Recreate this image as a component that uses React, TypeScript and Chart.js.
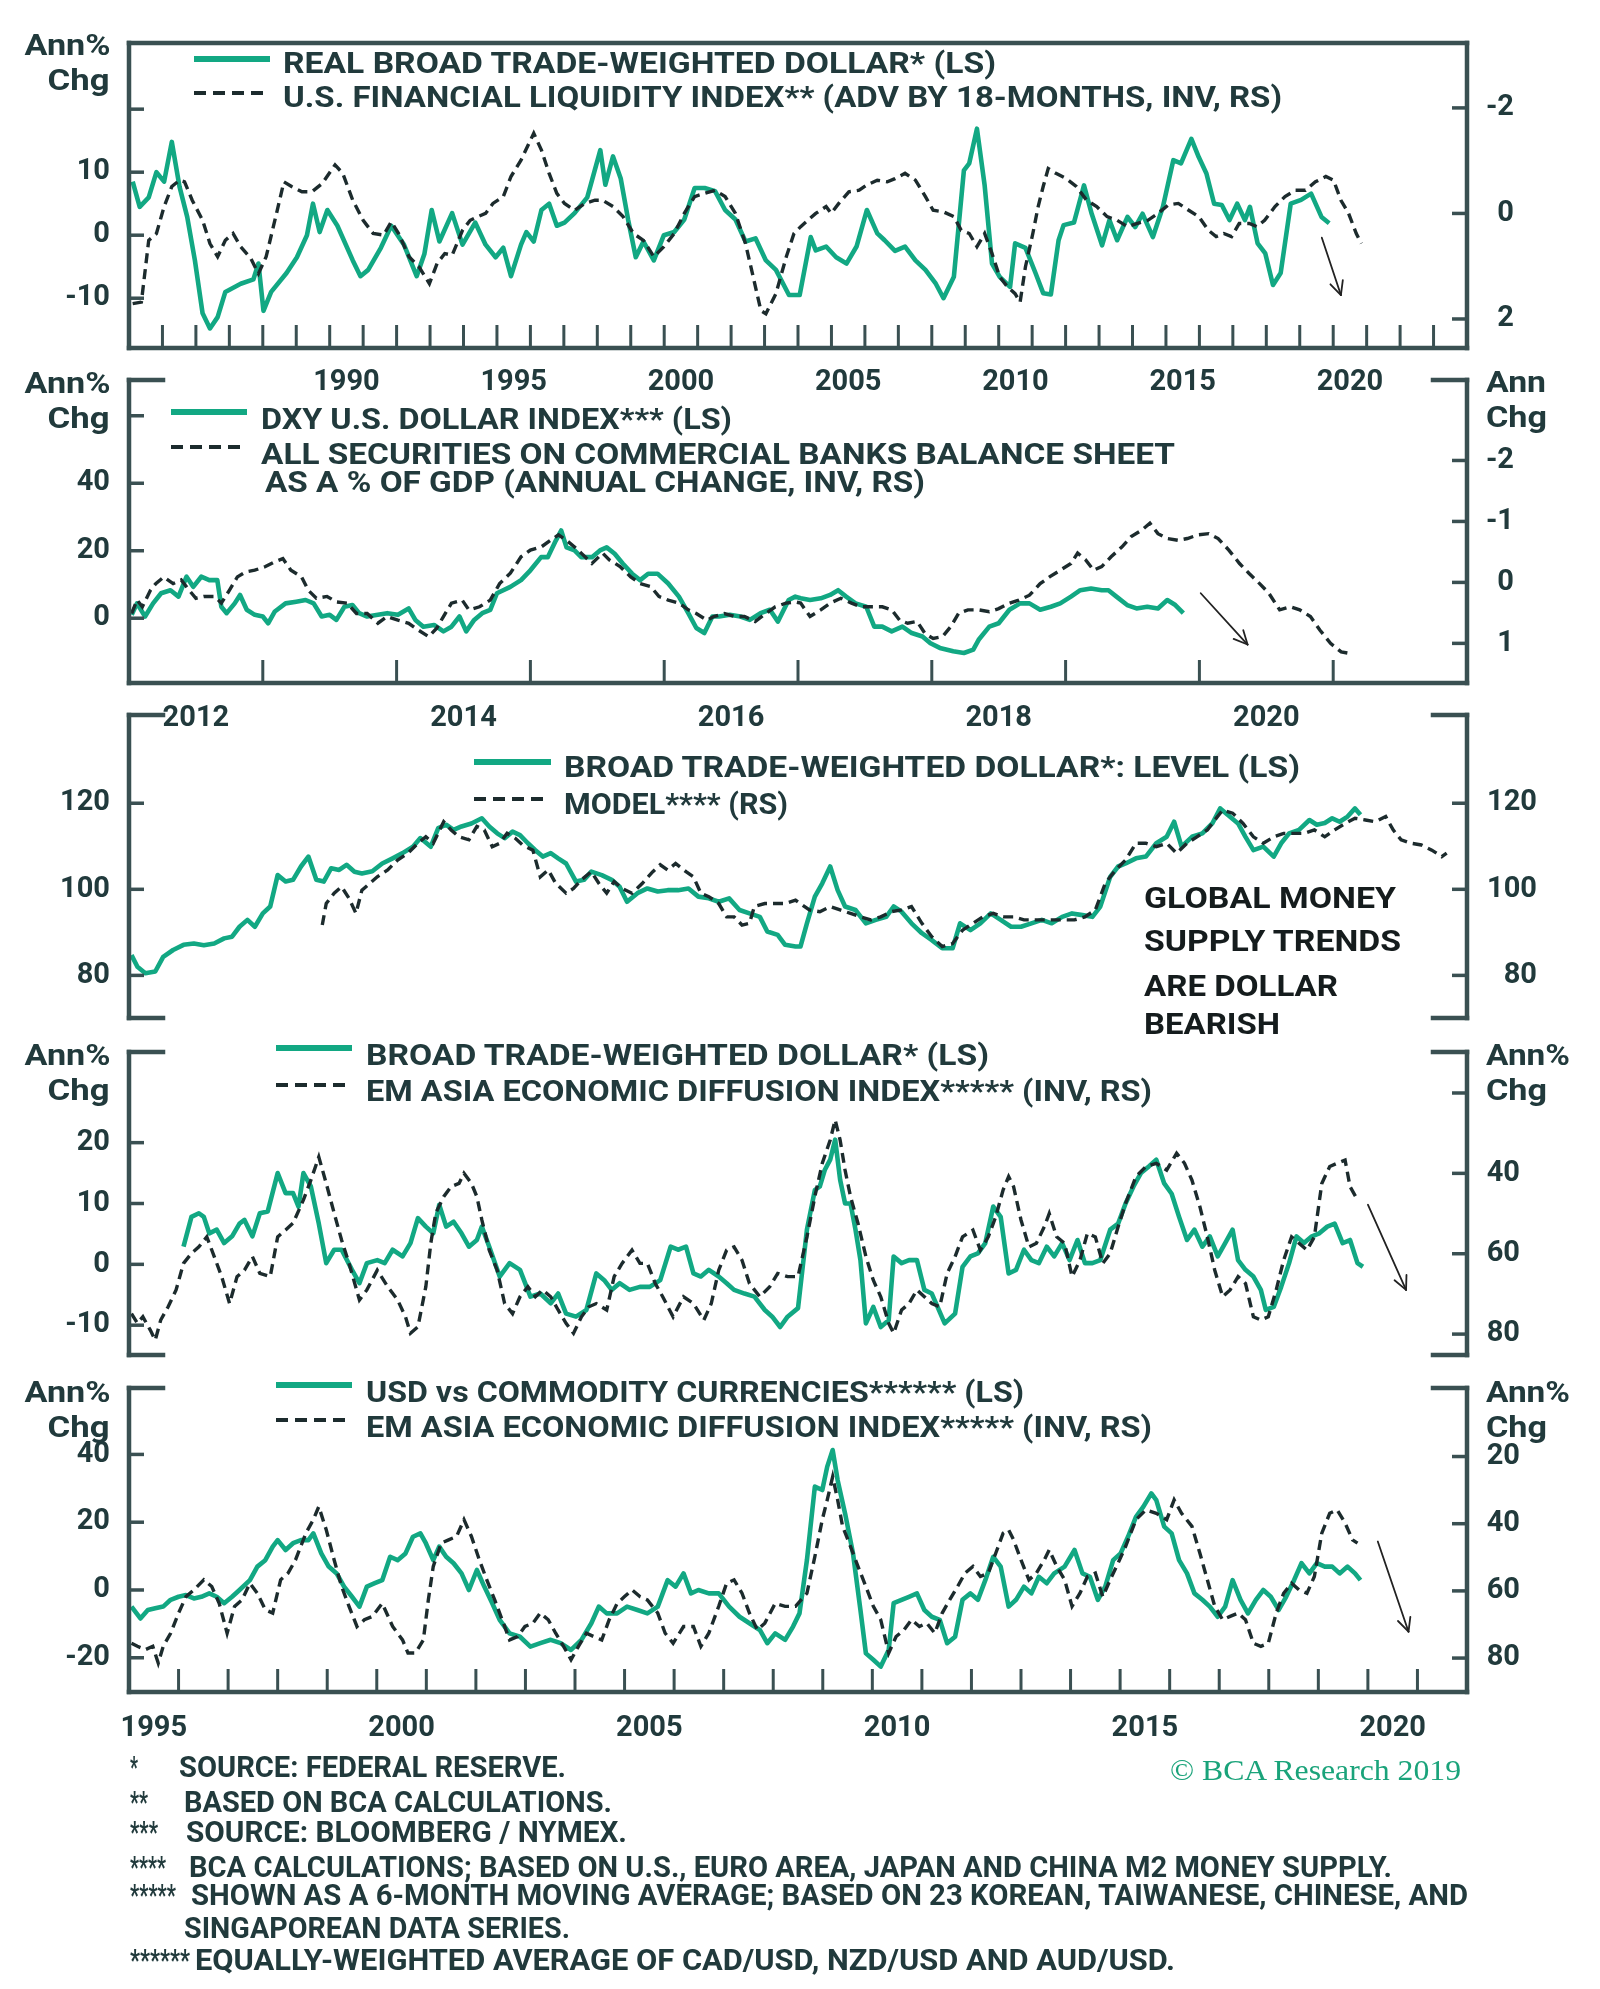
import React, { useEffect, useLayoutEffect, useRef } from 'react';
import { Chart, registerables } from 'chart.js';

Chart.register(...registerables);

// ---------------- colours / fonts ----------------
const FONT_FAMILY = 'Roboto, "Liberation Sans", Arial, sans-serif';
const TEXT = '#213a3c';
const AXIS = '#3a5052';
const GREEN = '#12a883';
const DASH = '#1c2b2d';

type Pt = [number, number];

// ---------------- DATA ----------------
// Panel 1: real broad trade-weighted dollar (ann % chg, LS) and US financial liquidity index (inv, RS)
const p1Years = [1990, 1995, 2000, 2005, 2010, 2015, 2020];
const p1LeftTicks = [20, 10, 0, -10];
const p1LeftLabels = [10, 0, -10];
const p1RightTicks = [-2, 0, 2];
const p1Green: Pt[] = [
  [1984.11, 8.5], [1984.32, 4.5], [1984.59, 6], [1984.82, 10], [1985.05, 8.5], [1985.28, 14.8], [1985.51, 7.7], [1985.74, 2.9],
  [1985.97, -4], [1986.2, -12.4], [1986.42, -14.8], [1986.65, -13], [1986.88, -9], [1987.34, -7.7], [1987.72, -7], [1987.87, -4.5],
  [1988.02, -12], [1988.25, -9], [1988.71, -6], [1989.02, -3.5], [1989.32, 0], [1989.5, 5], [1989.7, 0.5], [1989.93, 4],
  [1990.23, 1.5], [1990.69, -4], [1990.92, -6.5], [1991.15, -5.5], [1991.53, -2], [1991.84, 1.5], [1992.22, -1.5], [1992.6, -6.5],
  [1992.83, -3], [1993.05, 4], [1993.28, -1], [1993.66, 3.5], [1993.97, -1.5], [1994.35, 2], [1994.66, -1.5], [1994.96, -3.5],
  [1995.19, -2], [1995.42, -6.5], [1995.72, -1.5], [1995.88, 0.5], [1996.1, -1], [1996.33, 4], [1996.56, 5], [1996.79, 1.5],
  [1997.02, 2], [1997.32, 3.5], [1997.7, 6], [1998.09, 13.5], [1998.24, 8], [1998.47, 12.5], [1998.7, 9], [1998.92, 2.5],
  [1999.15, -3.5], [1999.38, -1], [1999.69, -4], [1999.99, 0], [2000.3, 0.5], [2000.6, 2.5], [2000.91, 7.5], [2001.21, 7.5],
  [2001.52, 7], [2001.82, 4], [2002.13, 2.5], [2002.43, -1], [2002.73, -0.5], [2003.04, -4], [2003.34, -5.5], [2003.73, -9.5],
  [2004.05, -9.5], [2004.38, -0.3], [2004.53, -2.4], [2004.84, -1.8], [2005.14, -3.5], [2005.45, -4.5], [2005.75, -1.8], [2006.06, 4],
  [2006.37, 0.3], [2006.59, -0.8], [2006.9, -2.5], [2007.2, -1.8], [2007.51, -4], [2007.81, -5.5], [2008.12, -7.7], [2008.35, -10],
  [2008.66, -6.6], [2008.96, 10.3], [2009.12, 11.4], [2009.35, 16.9], [2009.58, 7.9], [2009.8, -4.5], [2010.03, -6.6], [2010.34, -8.2],
  [2010.49, -1.3], [2010.8, -2], [2011.1, -6], [2011.33, -9.2], [2011.56, -9.4], [2011.79, -0.8], [2011.94, 1.6], [2012.25, 2],
  [2012.55, 7.9], [2012.78, 3.4], [2013.09, -1.6], [2013.31, 2.4], [2013.54, -0.8], [2013.85, 2.9], [2014.08, 1.3], [2014.3, 3.4],
  [2014.61, -0.3], [2014.91, 4.5], [2015.22, 11.9], [2015.45, 11.4], [2015.76, 15.3], [2015.98, 12.4], [2016.21, 9.8], [2016.44, 5],
  [2016.67, 4.8], [2016.9, 2.4], [2017.13, 5], [2017.36, 2.4], [2017.51, 4.5], [2017.74, -1.3], [2017.97, -2.9], [2018.2, -7.9],
  [2018.43, -6], [2018.73, 5], [2019.04, 5.6], [2019.34, 6.6], [2019.65, 2.9], [2019.88, 1.9],
];
const p1Dashed: Pt[] = [
  [1984.11, 1.71], [1984.37, 1.68], [1984.59, 0.51], [1984.82, 0.38], [1985.05, -0.13], [1985.28, -0.51], [1985.51, -0.63], [1985.66, -0.6],
  [1985.89, -0.25], [1986.2, 0.13], [1986.42, 0.57], [1986.65, 0.82], [1986.88, 0.51], [1987.11, 0.38], [1987.34, 0.63], [1987.64, 0.85],
  [1987.87, 1.14], [1988.1, 0.82], [1988.41, 0], [1988.63, -0.6], [1988.86, -0.51], [1989.17, -0.41], [1989.47, -0.41], [1989.78, -0.57],
  [1990.16, -0.92], [1990.39, -0.76], [1990.69, -0.25], [1991.0, 0.13], [1991.3, 0.38], [1991.61, 0.41], [1991.84, 0.16], [1992.06, 0.38],
  [1992.37, 0.82], [1992.67, 1.01], [1992.98, 1.33], [1993.21, 0.95], [1993.44, 0.76], [1993.66, 0.79], [1993.97, 0.32], [1994.2, 0.13],
  [1994.43, 0.06], [1994.66, 0], [1994.88, -0.19], [1995.19, -0.32], [1995.42, -0.7], [1995.72, -1.01], [1996.1, -1.52], [1996.33, -1.2],
  [1996.56, -0.76], [1996.79, -0.38], [1997.02, -0.19], [1997.32, -0.06], [1997.63, -0.19], [1997.93, -0.25], [1998.16, -0.25], [1998.47, -0.13],
  [1998.77, 0.06], [1999.08, 0.38], [1999.38, 0.51], [1999.69, 0.82], [1999.99, 0.63], [2000.3, 0.38], [2000.6, 0], [2000.91, -0.32],
  [2001.21, -0.38], [2001.52, -0.44], [2001.82, -0.32], [2002.13, 0], [2002.43, 0.57], [2002.66, 1.2], [2002.89, 1.84], [2003.04, 1.9],
  [2003.34, 1.52], [2003.65, 0.82], [2003.88, 0.38], [2004.08, 0.25], [2004.53, 0], [2004.84, -0.13], [2004.99, 0], [2005.22, -0.19],
  [2005.52, -0.41], [2005.83, -0.44], [2006.06, -0.54], [2006.37, -0.63], [2006.67, -0.6], [2006.9, -0.66], [2007.2, -0.76], [2007.51, -0.63],
  [2007.81, -0.32], [2008.04, -0.06], [2008.35, -0.03], [2008.66, 0.06], [2008.88, 0.32], [2009.12, 0.38], [2009.35, 0.63], [2009.58, 0.38],
  [2009.8, 0.76], [2010.03, 1.2], [2010.26, 1.39], [2010.49, 1.52], [2010.64, 1.68], [2010.8, 1.01], [2011.02, 0.38], [2011.18, -0.13],
  [2011.33, -0.51], [2011.48, -0.85], [2011.71, -0.76], [2012.02, -0.66], [2012.32, -0.51], [2012.63, -0.25], [2012.93, -0.13], [2013.24, 0.06],
  [2013.54, 0.13], [2013.85, 0.25], [2014.15, 0.19], [2014.46, 0.13], [2014.76, 0], [2015.07, -0.16], [2015.37, -0.19], [2015.68, -0.06],
  [2015.98, 0.06], [2016.27, 0.32], [2016.5, 0.44], [2016.73, 0.38], [2016.96, 0.44], [2017.19, 0.19], [2017.49, 0.19], [2017.72, 0.25],
  [2017.95, 0.13], [2018.26, -0.13], [2018.56, -0.32], [2018.87, -0.44], [2019.17, -0.44], [2019.47, -0.6], [2019.78, -0.7], [2020.01, -0.63],
  [2020.23, -0.25], [2020.46, 0], [2020.69, 0.38], [2020.84, 0.57],
];
const p1Arrow = [2019.66, -0.4, 2020.23, -9.5];

// Panel 2: DXY (ann % chg, LS) and securities on bank balance sheets (% of GDP, annual chg, inv, RS)
const p2Years = [2012, 2014, 2016, 2018, 2020];
const p2LeftTicks = [60, 40, 20, 0];
const p2LeftLabels = [40, 20, 0];
const p2RightTicks = [-2, -1, 0, 1];
const p2Green: Pt[] = [
  [2012.02, 1], [2012.06, 4.4], [2012.12, 0.5], [2012.18, 4.4], [2012.24, 7.4], [2012.31, 8.3], [2012.37, 6.4], [2012.43, 12.3],
  [2012.48, 9.3], [2012.54, 12.3], [2012.6, 11.3], [2012.66, 11.3], [2012.69, 3.4], [2012.73, 1.5], [2012.79, 4.4], [2012.83, 6.9],
  [2012.88, 2.5], [2012.94, 1], [2013.0, 0.5], [2013.04, -1.5], [2013.09, 2], [2013.17, 4.4], [2013.25, 4.9], [2013.32, 5.4],
  [2013.38, 4.4], [2013.44, 0.5], [2013.5, 1], [2013.55, -0.5], [2013.61, 3.4], [2013.67, 3.9], [2013.72, 1.5], [2013.78, 0.5],
  [2013.86, 1], [2013.93, 1.5], [2014.01, 1], [2014.09, 2.9], [2014.14, -0.5], [2014.2, -2.5], [2014.28, -2], [2014.35, -3.9],
  [2014.41, -2.5], [2014.47, 0.5], [2014.52, -3.9], [2014.58, -0.5], [2014.64, 1.5], [2014.7, 2.5], [2014.75, 7.4], [2014.85, 9.3],
  [2014.93, 11.3], [2015.0, 14.2], [2015.08, 18.1], [2015.13, 18.1], [2015.19, 23], [2015.23, 26], [2015.27, 21], [2015.33, 20.1],
  [2015.38, 18.1], [2015.46, 18.1], [2015.52, 20.1], [2015.57, 21], [2015.63, 19.1], [2015.69, 16.2], [2015.76, 13.2], [2015.82, 11.3],
  [2015.88, 13.2], [2015.95, 13.2], [2016.03, 10.3], [2016.11, 6.4], [2016.18, 1.5], [2016.24, -2.9], [2016.3, -4.4], [2016.36, 0.5],
  [2016.41, 0.5], [2016.49, 1], [2016.57, 0.5], [2016.64, -0.5], [2016.72, 1.5], [2016.79, 2.5], [2016.85, -1], [2016.93, 5.4],
  [2016.98, 6.4], [2017.02, 5.9], [2017.09, 5.4], [2017.17, 5.9], [2017.24, 6.9], [2017.3, 8.3], [2017.36, 6.4], [2017.43, 4.4],
  [2017.51, 3.4], [2017.57, -2.5], [2017.63, -2.5], [2017.7, -3.9], [2017.78, -2.5], [2017.85, -4.4], [2017.93, -5.4], [2017.99, -7.4],
  [2018.06, -8.8], [2018.16, -9.8], [2018.24, -10.3], [2018.31, -9.3], [2018.35, -6.4], [2018.43, -2.5], [2018.5, -1.5], [2018.58, 2.5],
  [2018.66, 4.4], [2018.73, 4.4], [2018.81, 2.5], [2018.89, 3.4], [2018.96, 4.4], [2019.04, 6.4], [2019.11, 8.3], [2019.19, 8.8],
  [2019.27, 8.3], [2019.32, 8.3], [2019.38, 6.4], [2019.46, 3.9], [2019.53, 2.9], [2019.61, 3.4], [2019.69, 2.9], [2019.76, 5.4],
  [2019.82, 3.9], [2019.88, 1.5],
];
const p2Dashed: Pt[] = [
  [2012.02, 0.51], [2012.06, 0.29], [2012.1, 0.4], [2012.16, 0.13], [2012.2, 0.02], [2012.26, -0.09], [2012.33, 0.02], [2012.39, -0.04],
  [2012.45, 0.13], [2012.5, 0.26], [2012.56, 0.23], [2012.64, 0.23], [2012.69, 0.34], [2012.75, 0.13], [2012.81, -0.09], [2012.87, -0.17],
  [2012.94, -0.2], [2013.02, -0.26], [2013.09, -0.34], [2013.15, -0.39], [2013.21, -0.2], [2013.29, -0.09], [2013.34, 0.13], [2013.4, 0.26],
  [2013.48, 0.23], [2013.55, 0.32], [2013.63, 0.34], [2013.7, 0.51], [2013.78, 0.51], [2013.86, 0.67], [2013.93, 0.56], [2014.01, 0.62],
  [2014.09, 0.67], [2014.16, 0.78], [2014.24, 0.89], [2014.3, 0.75], [2014.35, 0.56], [2014.41, 0.34], [2014.49, 0.29], [2014.54, 0.45],
  [2014.62, 0.4], [2014.7, 0.29], [2014.77, 0.02], [2014.85, -0.15], [2014.93, -0.42], [2015.0, -0.53], [2015.08, -0.58], [2015.15, -0.69],
  [2015.21, -0.78], [2015.27, -0.69], [2015.33, -0.58], [2015.38, -0.48], [2015.46, -0.31], [2015.54, -0.48], [2015.59, -0.37], [2015.67, -0.26],
  [2015.75, -0.09], [2015.82, 0.02], [2015.9, 0.07], [2015.96, 0.23], [2016.03, 0.29], [2016.11, 0.34], [2016.18, 0.45], [2016.24, 0.51],
  [2016.32, 0.62], [2016.37, 0.56], [2016.45, 0.51], [2016.53, 0.56], [2016.6, 0.56], [2016.68, 0.64], [2016.76, 0.51], [2016.83, 0.4],
  [2016.91, 0.34], [2016.98, 0.32], [2017.02, 0.34], [2017.09, 0.56], [2017.17, 0.45], [2017.24, 0.34], [2017.32, 0.26], [2017.4, 0.34],
  [2017.47, 0.4], [2017.55, 0.4], [2017.63, 0.4], [2017.7, 0.45], [2017.76, 0.62], [2017.82, 0.67], [2017.89, 0.64], [2017.95, 0.84],
  [2018.01, 0.92], [2018.08, 0.89], [2018.14, 0.73], [2018.2, 0.51], [2018.27, 0.45], [2018.35, 0.45], [2018.43, 0.48], [2018.5, 0.43],
  [2018.58, 0.34], [2018.65, 0.29], [2018.73, 0.21], [2018.81, 0.02], [2018.88, -0.09], [2018.96, -0.2], [2019.04, -0.31], [2019.09, -0.48],
  [2019.15, -0.37], [2019.21, -0.2], [2019.27, -0.26], [2019.34, -0.42], [2019.42, -0.58], [2019.49, -0.75], [2019.57, -0.86], [2019.63, -0.97],
  [2019.69, -0.8], [2019.76, -0.72], [2019.84, -0.69], [2019.91, -0.72], [2019.99, -0.78], [2020.07, -0.8], [2020.14, -0.72], [2020.22, -0.53],
  [2020.3, -0.31], [2020.37, -0.15], [2020.45, 0.02], [2020.52, 0.18], [2020.6, 0.45], [2020.68, 0.4], [2020.75, 0.45], [2020.83, 0.56],
  [2020.9, 0.78], [2020.98, 1.0], [2021.06, 1.14], [2021.11, 1.16],
];
const p2Arrow = [2020.01, 7.4, 2020.36, -7.8];

// Panel 3: broad trade-weighted dollar level (LS) and model (RS)
const p3Ticks = [120, 100, 80];
const p3Green: Pt[] = [
  [1995.05, 84.7], [1995.17, 82], [1995.33, 80.5], [1995.53, 80.9], [1995.69, 84.3], [1995.89, 85.9], [1996.1, 87.1], [1996.31, 87.4],
  [1996.51, 87.0], [1996.72, 87.4], [1996.92, 88.6], [1997.08, 89], [1997.23, 91.3], [1997.39, 92.9], [1997.54, 91.3], [1997.7, 94.4],
  [1997.85, 96], [1998.0, 103.3], [1998.16, 101.8], [1998.31, 102.2], [1998.47, 105.3], [1998.62, 107.6], [1998.78, 102.2], [1998.93, 101.8],
  [1999.08, 104.9], [1999.24, 104.5], [1999.39, 105.7], [1999.55, 104.1], [1999.7, 103.7], [1999.91, 104.2], [2000.11, 106], [2000.32, 107.2],
  [2000.52, 108.4], [2000.73, 109.9], [2000.88, 111.9], [2001.09, 109.9], [2001.24, 114.2], [2001.4, 115], [2001.55, 113.8], [2001.71, 114.6],
  [2001.91, 115.3], [2002.12, 116.5], [2002.27, 114.6], [2002.43, 113], [2002.58, 111.9], [2002.74, 113.4], [2002.89, 112.6], [2003.05, 110.7],
  [2003.2, 109.1], [2003.35, 107.6], [2003.51, 108.4], [2003.66, 107.2], [2003.82, 106], [2004.02, 101.8], [2004.18, 102.2], [2004.33, 104.1],
  [2004.54, 103.3], [2004.74, 102.2], [2004.9, 100.6], [2005.05, 97.1], [2005.26, 99.1], [2005.46, 100.2], [2005.67, 99.5], [2005.87, 99.8],
  [2006.08, 99.8], [2006.29, 100.2], [2006.49, 98.3], [2006.7, 97.9], [2006.9, 97.1], [2007.11, 97.9], [2007.32, 95.2], [2007.52, 94.4],
  [2007.73, 93.6], [2007.88, 90.2], [2008.09, 89.4], [2008.24, 87.1], [2008.45, 86.7], [2008.55, 86.7], [2008.68, 92.1], [2008.84, 98.3],
  [2008.99, 101.4], [2009.15, 105.3], [2009.3, 99.8], [2009.45, 96], [2009.66, 95.2], [2009.87, 92.1], [2010.07, 92.9], [2010.28, 93.6],
  [2010.43, 96], [2010.59, 94.8], [2010.79, 92.1], [2011.0, 89.8], [2011.2, 88.2], [2011.41, 86.3], [2011.62, 86.3], [2011.77, 92.1],
  [2011.98, 90.5], [2012.18, 92.1], [2012.39, 94.4], [2012.59, 92.9], [2012.8, 91.3], [2013.0, 91.3], [2013.21, 92.1], [2013.42, 92.9],
  [2013.62, 92.1], [2013.83, 93.6], [2014.03, 94.4], [2014.24, 94.0], [2014.44, 93.6], [2014.6, 96], [2014.8, 102.9], [2014.96, 105.3],
  [2015.11, 106], [2015.32, 107.2], [2015.52, 107.6], [2015.73, 110.7], [2015.94, 112.2], [2016.09, 115.7], [2016.24, 109.9], [2016.45, 112.2],
  [2016.66, 113], [2016.86, 115.3], [2017.02, 118.8], [2017.17, 117.3], [2017.38, 115.3], [2017.53, 112.2], [2017.69, 109.1], [2017.89, 109.9],
  [2018.1, 107.6], [2018.25, 110.7], [2018.41, 113], [2018.61, 113.8], [2018.82, 116.1], [2018.97, 115], [2019.13, 115.4], [2019.28, 116.5],
  [2019.43, 115.7], [2019.59, 116.9], [2019.74, 118.8], [2019.85, 117.3],
];
const p3Dashed: Pt[] = [
  [1998.9, 91.7], [1998.98, 96.7], [1999.14, 99.1], [1999.29, 100.6], [1999.44, 97.9], [1999.58, 94.4], [1999.7, 99.8], [1999.86, 101.4],
  [2000.01, 102.9], [2000.22, 104.5], [2000.42, 106.8], [2000.63, 108.4], [2000.83, 110.7], [2000.99, 112.2], [2001.14, 110.7], [2001.35, 115.7],
  [2001.5, 113.8], [2001.66, 112.2], [2001.86, 111.5], [2002.02, 114.6], [2002.17, 113.8], [2002.33, 109.9], [2002.48, 110.7], [2002.63, 113],
  [2002.79, 111.9], [2002.94, 110.3], [2003.15, 109.1], [2003.3, 102.9], [2003.46, 104.5], [2003.61, 101.4], [2003.82, 99.1], [2003.97, 100.2],
  [2004.13, 102.2], [2004.33, 104.1], [2004.48, 101.4], [2004.64, 99.1], [2004.79, 101.8], [2004.95, 100.2], [2005.15, 99.1], [2005.36, 101.4],
  [2005.57, 104.1], [2005.72, 105.7], [2005.87, 104.5], [2006.03, 106], [2006.24, 104.1], [2006.39, 102.9], [2006.54, 99.1], [2006.7, 98.3],
  [2006.9, 96.7], [2007.06, 93.6], [2007.21, 93.6], [2007.37, 91.7], [2007.52, 92.1], [2007.62, 96], [2007.83, 96.7], [2008.03, 96.7],
  [2008.24, 96.7], [2008.45, 97.5], [2008.73, 95.2], [2008.94, 94.8], [2009.15, 96], [2009.35, 95.2], [2009.56, 94.4], [2009.76, 93.6],
  [2009.97, 92.9], [2010.17, 93.6], [2010.38, 94.8], [2010.59, 95.2], [2010.79, 96], [2011.0, 92.1], [2011.2, 89], [2011.41, 86.7],
  [2011.62, 87.4], [2011.82, 90.5], [2012.03, 92.1], [2012.23, 93.6], [2012.44, 94.4], [2012.64, 93.6], [2012.85, 93.6], [2013.06, 92.9],
  [2013.26, 92.9], [2013.47, 92.9], [2013.67, 92.9], [2013.88, 92.9], [2014.08, 92.9], [2014.29, 93.6], [2014.5, 95.2], [2014.7, 101.4],
  [2014.91, 104.5], [2015.11, 106.8], [2015.32, 110.7], [2015.52, 110.7], [2015.73, 109.9], [2015.94, 110.7], [2016.14, 108.4], [2016.35, 110.7],
  [2016.55, 112.2], [2016.76, 113.8], [2016.91, 116.1], [2017.07, 118.4], [2017.27, 117.7], [2017.48, 115.3], [2017.69, 112.2], [2017.89, 110.7],
  [2018.1, 112.2], [2018.3, 113], [2018.51, 113], [2018.71, 113], [2018.92, 113.8], [2019.13, 112.2], [2019.33, 113.8], [2019.54, 115.3],
  [2019.74, 116.5], [2019.95, 116.1], [2020.15, 115.7], [2020.36, 116.9], [2020.51, 113.8], [2020.67, 111.5], [2020.87, 110.7], [2021.08, 110.3],
  [2021.29, 109.1], [2021.49, 107.6], [2021.59, 108.4],
];

// Panel 4: broad trade-weighted dollar (ann % chg, LS) and EM Asia diffusion index (inv, RS)
const p5Years = [1995, 2000, 2005, 2010, 2015, 2020];
const p4LeftTicks = [20, 10, 0, -10];
const p4RightTicks = [20, 40, 60, 80];
const p4RightLabels = [40, 60, 80];
const p4Green: Pt[] = [
  [1996.1, 2.9], [1996.26, 7.8], [1996.41, 8.4], [1996.51, 7.8], [1996.62, 5.1], [1996.77, 5.7], [1996.92, 3.5], [1997.08, 4.6],
  [1997.23, 6.7], [1997.33, 7.3], [1997.49, 4.6], [1997.64, 8.4], [1997.8, 8.7], [1998.0, 15], [1998.16, 11.7], [1998.31, 11.7],
  [1998.42, 9.5], [1998.52, 15], [1998.67, 12.8], [1998.83, 6.7], [1998.98, 0.2], [1999.14, 2.4], [1999.29, 2.4], [1999.5, -0.9],
  [1999.65, -3.1], [1999.8, 0.2], [2000.01, 0.7], [2000.16, 0.2], [2000.32, 2.4], [2000.52, 1.3], [2000.68, 3.5], [2000.83, 7.6],
  [2000.99, 6.2], [2001.14, 5.1], [2001.26, 9.8], [2001.4, 6.2], [2001.55, 7], [2001.71, 5.1], [2001.86, 2.9], [2002.02, 4],
  [2002.12, 6.2], [2002.27, 2.9], [2002.48, -2], [2002.68, 0.2], [2002.89, -0.9], [2003.1, -5.3], [2003.3, -4.8], [2003.51, -6.4],
  [2003.66, -4.8], [2003.82, -8.1], [2004.02, -8.6], [2004.23, -7.5], [2004.43, -1.5], [2004.59, -2.6], [2004.74, -4.2], [2004.9, -3.1],
  [2005.1, -4.2], [2005.31, -3.7], [2005.51, -3.7], [2005.72, -2.6], [2005.93, 2.9], [2006.08, 2.4], [2006.24, 2.9], [2006.39, -1.5],
  [2006.54, -2], [2006.7, -0.9], [2006.9, -2], [2007.06, -3.1], [2007.21, -4.2], [2007.42, -4.8], [2007.62, -5.3], [2007.83, -7.5],
  [2007.98, -8.6], [2008.14, -10.3], [2008.29, -8.6], [2008.5, -7.2], [2008.68, 5.7], [2008.84, 12.2], [2008.94, 12.8], [2009.04, 15.5],
  [2009.15, 17.2], [2009.25, 20.5], [2009.35, 13.9], [2009.45, 10], [2009.56, 10], [2009.66, 5.7], [2009.76, 0.7], [2009.87, -9.7],
  [2010.02, -7], [2010.17, -10.3], [2010.33, -9.2], [2010.43, 1.3], [2010.59, 0.2], [2010.74, 0.7], [2010.9, 0.7], [2011.05, -4.2],
  [2011.2, -4.8], [2011.46, -9.7], [2011.67, -8.1], [2011.82, -0.4], [2011.98, 1.3], [2012.13, 1.8], [2012.28, 3.5], [2012.44, 9.5],
  [2012.59, 7.8], [2012.75, -1.5], [2012.9, -0.9], [2013.06, 2.4], [2013.21, 0.7], [2013.36, 0.2], [2013.52, 2.9], [2013.67, 1.3],
  [2013.83, 3.5], [2013.98, 0.7], [2014.14, 4], [2014.29, 0.2], [2014.44, 0.2], [2014.6, 0.7], [2014.8, 5.7], [2014.96, 6.7],
  [2015.11, 10], [2015.27, 12.8], [2015.42, 15], [2015.58, 16.1], [2015.73, 17.2], [2015.89, 13.3], [2016.04, 11.6], [2016.19, 7.8],
  [2016.35, 4], [2016.5, 5.7], [2016.66, 2.9], [2016.81, 4.6], [2016.97, 1.3], [2017.12, 3.5], [2017.27, 5.7], [2017.38, 0.7],
  [2017.53, -0.9], [2017.69, -2], [2017.84, -4.2], [2017.94, -7.5], [2018.1, -7], [2018.25, -3.7], [2018.41, 0.2], [2018.56, 4.6],
  [2018.71, 3.5], [2018.87, 4.6], [2019.02, 5.1], [2019.18, 6.2], [2019.33, 6.7], [2019.49, 3.5], [2019.64, 4], [2019.79, 0.2],
  [2019.9, -0.4],
];
const p4Dashed: Pt[] = [
  [1995.05, 74.9], [1995.17, 77.3], [1995.28, 75.7], [1995.43, 79], [1995.53, 81.5], [1995.64, 76.5], [1995.79, 73.2], [1995.95, 69],
  [1996.1, 62.4], [1996.26, 59.9], [1996.41, 58.3], [1996.57, 55.8], [1996.72, 60.7], [1996.87, 65.7], [1997.03, 72.4], [1997.18, 65.7],
  [1997.33, 64.1], [1997.49, 60.7], [1997.64, 64.9], [1997.85, 65.7], [1998.0, 55.8], [1998.16, 54.1], [1998.31, 52.4], [1998.52, 46.6],
  [1998.67, 41.7], [1998.83, 35.9], [1998.98, 42.5], [1999.14, 49.9], [1999.29, 56.6], [1999.44, 62.4], [1999.65, 71.5], [1999.8, 69],
  [2000.01, 64.1], [2000.22, 68.2], [2000.42, 71.5], [2000.58, 75.7], [2000.68, 79.8], [2000.83, 78.2], [2000.99, 68.2], [2001.09, 57.4],
  [2001.19, 49.9], [2001.35, 45.8], [2001.5, 43.3], [2001.66, 42.5], [2001.76, 40], [2001.91, 42.5], [2002.02, 45.8], [2002.12, 51.6],
  [2002.27, 59.1], [2002.43, 64.1], [2002.58, 72.4], [2002.74, 74.9], [2002.89, 70.7], [2003.05, 68.2], [2003.2, 70.7], [2003.35, 69],
  [2003.51, 70.7], [2003.66, 74], [2003.82, 77.3], [2003.97, 79.8], [2004.13, 75.7], [2004.28, 73.2], [2004.43, 72.4], [2004.64, 74],
  [2004.79, 65.7], [2004.95, 62.4], [2005.15, 59.1], [2005.31, 62.4], [2005.46, 62.4], [2005.62, 67.4], [2005.77, 70.7], [2005.98, 75.7],
  [2006.19, 70.7], [2006.39, 72.4], [2006.6, 76.5], [2006.75, 72.4], [2006.9, 64.1], [2007.06, 59.1], [2007.21, 58.3], [2007.37, 61.6],
  [2007.52, 67.4], [2007.73, 70.7], [2007.93, 68.2], [2008.09, 64.9], [2008.29, 65.7], [2008.5, 65.7], [2008.68, 55.8], [2008.84, 45.8],
  [2008.99, 37.5], [2009.15, 31.7], [2009.25, 26.7], [2009.35, 31.7], [2009.45, 39.2], [2009.56, 45.8], [2009.71, 52.4], [2009.87, 60.7],
  [2010.02, 66.6], [2010.17, 70.7], [2010.33, 77.3], [2010.43, 79.8], [2010.59, 74], [2010.74, 72.4], [2010.9, 69], [2011.05, 70.7],
  [2011.2, 72.4], [2011.36, 73.2], [2011.51, 64.9], [2011.67, 60.7], [2011.82, 55.8], [2012.03, 54.1], [2012.18, 59.1], [2012.34, 55.8],
  [2012.49, 50.8], [2012.64, 44.1], [2012.75, 40.8], [2012.85, 43.3], [2013.0, 51.6], [2013.16, 58.3], [2013.31, 57.4], [2013.47, 53.3],
  [2013.57, 50], [2013.72, 55.8], [2013.88, 57.4], [2014.03, 65.7], [2014.19, 61.6], [2014.34, 54.9], [2014.5, 55.8], [2014.65, 62.4],
  [2014.8, 59.9], [2014.96, 53.3], [2015.11, 47.5], [2015.32, 40.8], [2015.52, 38.3], [2015.73, 37.5], [2015.94, 39.2], [2016.14, 35],
  [2016.3, 37.5], [2016.45, 41.7], [2016.61, 48.3], [2016.76, 55.8], [2016.91, 64.1], [2017.07, 70.7], [2017.22, 69], [2017.38, 65.7],
  [2017.53, 67.4], [2017.69, 75.7], [2017.84, 76.5], [2017.99, 75.7], [2018.15, 69], [2018.3, 61.6], [2018.46, 55.8], [2018.61, 57.4],
  [2018.77, 59.1], [2018.92, 55.8], [2019.07, 42.5], [2019.23, 38.3], [2019.38, 37.5], [2019.54, 36.7], [2019.64, 43.3], [2019.79, 46.6],
];
const p4Arrow = [2020.0, 9.8, 2020.77, -4.2];

// Panel 5: USD vs commodity currencies (ann % chg, LS) and EM Asia diffusion index (inv, RS)
const p5LeftTicks = [40, 20, 0, -20];
const p5RightTicks = [20, 40, 60, 80];
const p5Green: Pt[] = [
  [1995.05, -4.9], [1995.23, -8.4], [1995.38, -5.9], [1995.53, -5.4], [1995.69, -4.9], [1995.84, -2.9], [1996.0, -2], [1996.15, -1.5],
  [1996.31, -2.5], [1996.46, -2], [1996.62, -1], [1996.77, -2], [1996.92, -3.9], [1997.08, -2], [1997.23, 0], [1997.44, 2.9],
  [1997.59, 6.9], [1997.75, 8.8], [1997.9, 12.8], [1998.0, 14.7], [1998.16, 11.8], [1998.31, 13.8], [1998.47, 14.7], [1998.62, 14.7],
  [1998.72, 16.7], [1998.88, 10.8], [1999.03, 6.9], [1999.19, 4.9], [1999.34, 1], [1999.5, -2], [1999.65, -4.9], [1999.8, 1],
  [1999.96, 2], [2000.11, 2.9], [2000.27, 9.8], [2000.42, 8.8], [2000.58, 10.8], [2000.73, 15.7], [2000.88, 16.7], [2000.99, 13.8],
  [2001.14, 8.8], [2001.26, 12.8], [2001.4, 9.8], [2001.55, 7.9], [2001.71, 4.9], [2001.86, 0], [2002.02, 5.9], [2002.17, 1],
  [2002.33, -3.9], [2002.48, -8.8], [2002.68, -12.8], [2002.89, -13.8], [2003.1, -16.7], [2003.3, -15.7], [2003.51, -14.7], [2003.71, -15.7],
  [2003.92, -17.7], [2004.13, -14.7], [2004.33, -9.8], [2004.48, -4.9], [2004.64, -6.9], [2004.85, -6.9], [2005.05, -4.9], [2005.26, -5.9],
  [2005.46, -6.9], [2005.67, -4.9], [2005.87, 2.9], [2006.03, 1], [2006.19, 4.9], [2006.34, -1], [2006.49, 0], [2006.7, -1],
  [2006.9, -1], [2007.11, -4.9], [2007.32, -7.9], [2007.52, -9.8], [2007.73, -11.8], [2007.88, -15.7], [2008.04, -12.8], [2008.24, -14.7],
  [2008.4, -10.8], [2008.53, -6.9], [2008.68, 8.8], [2008.84, 30.5], [2008.99, 29.5], [2009.09, 36.4], [2009.2, 41.3], [2009.3, 32.4],
  [2009.45, 22.6], [2009.61, 10.8], [2009.76, -5.9], [2009.87, -18.7], [2010.02, -20.6], [2010.17, -22.6], [2010.33, -17.7], [2010.43, -3.9],
  [2010.59, -2.9], [2010.74, -2], [2010.9, -1], [2011.05, -5.9], [2011.2, -7.9], [2011.36, -8.8], [2011.51, -15.7], [2011.67, -13.8],
  [2011.82, -2.9], [2011.98, -1], [2012.13, -2.9], [2012.28, 2.9], [2012.44, 9.8], [2012.59, 6.9], [2012.75, -4.9], [2012.9, -2.9],
  [2013.06, 1], [2013.21, -1], [2013.36, 3.9], [2013.52, 2], [2013.67, 4.9], [2013.88, 6.9], [2014.08, 11.8], [2014.24, 4.9],
  [2014.39, 3.9], [2014.55, -2.9], [2014.7, 1], [2014.86, 8.8], [2015.01, 10.8], [2015.16, 15.7], [2015.32, 21.6], [2015.47, 24.6],
  [2015.63, 28.5], [2015.73, 26.5], [2015.89, 18.7], [2016.04, 16.7], [2016.19, 8.8], [2016.35, 4.9], [2016.5, -1], [2016.66, -2.9],
  [2016.81, -4.9], [2016.97, -7.9], [2017.12, -4.9], [2017.27, 2.9], [2017.43, -2.9], [2017.58, -6.9], [2017.74, -2.9], [2017.89, 0],
  [2018.04, -2], [2018.2, -5.9], [2018.35, -2], [2018.51, 2.9], [2018.66, 7.9], [2018.82, 4.9], [2018.97, 7.9], [2019.13, 6.9],
  [2019.28, 6.9], [2019.43, 4.9], [2019.59, 6.9], [2019.74, 4.9], [2019.85, 2.9],
];
const p5Dashed: Pt[] = [
  [1995.05, 75.6], [1995.17, 76.5], [1995.33, 77.5], [1995.48, 76.5], [1995.59, 81.5], [1995.69, 76.5], [1995.84, 72.6], [1996.0, 66.6],
  [1996.15, 61.7], [1996.31, 59.7], [1996.51, 56.7], [1996.67, 58.7], [1996.82, 63.7], [1996.98, 72.6], [1997.13, 64.6], [1997.28, 62.7],
  [1997.44, 57.7], [1997.59, 60.7], [1997.75, 65.6], [1997.9, 66.6], [1998.06, 56.7], [1998.21, 54.7], [1998.36, 50.8], [1998.57, 42.8],
  [1998.72, 38.8], [1998.83, 34.9], [1998.98, 41.8], [1999.14, 50.8], [1999.29, 58.7], [1999.44, 64.6], [1999.6, 70.6], [1999.75, 68.6],
  [1999.91, 67.6], [2000.11, 63.7], [2000.32, 70.6], [2000.52, 74.6], [2000.63, 78.5], [2000.78, 78.5], [2000.94, 74.6], [2001.04, 62.7],
  [2001.14, 52.7], [2001.3, 45.8], [2001.45, 44.8], [2001.61, 43.8], [2001.76, 38.8], [2001.91, 43.8], [2002.07, 50.8], [2002.22, 56.7],
  [2002.38, 62.7], [2002.53, 68.6], [2002.68, 74.6], [2002.84, 73.6], [2002.99, 70.6], [2003.15, 69.6], [2003.3, 66.6], [2003.46, 68.6],
  [2003.61, 72.6], [2003.77, 76.5], [2003.92, 80.5], [2004.07, 76.5], [2004.23, 72.6], [2004.38, 73.6], [2004.54, 74.6], [2004.69, 68.6],
  [2004.85, 63.7], [2005.0, 61.7], [2005.15, 59.7], [2005.31, 61.7], [2005.46, 62.7], [2005.67, 66.6], [2005.82, 72.6], [2005.98, 75.6],
  [2006.19, 70.6], [2006.39, 70.6], [2006.54, 76.5], [2006.7, 72.6], [2006.9, 64.6], [2007.06, 57.7], [2007.21, 56.7], [2007.37, 60.7],
  [2007.52, 66.6], [2007.68, 71.6], [2007.83, 69.6], [2008.04, 63.7], [2008.24, 64.6], [2008.45, 64.6], [2008.68, 60.7], [2008.84, 49.8],
  [2008.99, 38.8], [2009.09, 32.9], [2009.2, 26], [2009.3, 32.9], [2009.4, 40.8], [2009.56, 46.8], [2009.71, 52.7], [2009.87, 58.7],
  [2010.02, 64.6], [2010.17, 68.6], [2010.33, 78.5], [2010.48, 73.6], [2010.64, 71.6], [2010.79, 68.6], [2010.95, 70.6], [2011.1, 69.6],
  [2011.26, 72.6], [2011.41, 66.6], [2011.56, 62.7], [2011.72, 58.7], [2011.87, 54.7], [2012.03, 52.7], [2012.18, 55.7], [2012.34, 54.7],
  [2012.49, 48.8], [2012.64, 42.8], [2012.75, 41.8], [2012.85, 44.8], [2013.0, 50.8], [2013.16, 56.7], [2013.31, 54.7], [2013.47, 50.8],
  [2013.57, 47.8], [2013.72, 52.7], [2013.88, 56.7], [2014.03, 64.6], [2014.19, 60.7], [2014.34, 55.7], [2014.5, 54.7], [2014.65, 61.7],
  [2014.8, 56.7], [2014.96, 51.7], [2015.11, 46.8], [2015.32, 38.8], [2015.52, 35.9], [2015.73, 36.9], [2015.94, 38.8], [2016.09, 32.9],
  [2016.24, 36.9], [2016.45, 40.8], [2016.61, 48.8], [2016.76, 56.7], [2016.91, 64.6], [2017.07, 68.6], [2017.22, 67.6], [2017.38, 66.6],
  [2017.53, 68.6], [2017.69, 75.6], [2017.84, 76.5], [2017.99, 75.6], [2018.15, 66.6], [2018.3, 60.7], [2018.46, 57.7], [2018.61, 59.7],
  [2018.77, 60.7], [2018.92, 55.7], [2019.07, 42.8], [2019.23, 36.9], [2019.38, 35.9], [2019.54, 39.8], [2019.69, 44.8], [2019.79, 45.8],
];
const p5Arrow = [2020.2, 14.3, 2020.82, -12.3];

// ---------------- layout ----------------
const PAGE_W = 1600;
const PAGE_H = 1989;
const AREA_L = 129;
const AREA_R = 1467;
const CAP = 34;

interface AxisCfg { min: number; max: number; reverse?: boolean; ticks: number[]; labeled: number[]; }
interface PanelCfg {
  canvasTop: number; canvasHeight: number; areaTop: number; areaBottom: number;
  xMin: number; xMax: number; yearLabels?: number[]; labelPad?: number; rightLabelEdge: number;
  left: AxisCfg; right: AxisCfg; dashedAxis: 'yL' | 'yR';
  green: Pt[]; dashed: Pt[];
  topFull: boolean; bottomFull: boolean; yearTicks: boolean;
  arrow?: number[];
}

const PANELS: PanelCfg[] = [
  {
    canvasTop: 0, canvasHeight: 410, areaTop: 43, areaBottom: 348, xMin: 1984, xMax: 2024, yearLabels: p1Years, labelPad: 20, rightLabelEdge: 1514,
    left: { min: -17.9, max: 30.5, ticks: p1LeftTicks, labeled: p1LeftLabels },
    right: { min: -3.23, max: 2.55, reverse: true, ticks: p1RightTicks, labeled: p1RightTicks },
    dashedAxis: 'yR', green: p1Green, dashed: p1Dashed, topFull: true, bottomFull: true, yearTicks: true, arrow: p1Arrow,
  },
  {
    canvasTop: 335, canvasHeight: 410, areaTop: 380, areaBottom: 683, xMin: 2012, xMax: 2022, yearLabels: p2Years, labelPad: 21, rightLabelEdge: 1514,
    left: { min: -19.2, max: 70.6, ticks: p2LeftTicks, labeled: p2LeftLabels },
    right: { min: -3.32, max: 1.65, reverse: true, ticks: p2RightTicks, labeled: p2RightTicks },
    dashedAxis: 'yR', green: p2Green, dashed: p2Dashed, topFull: false, bottomFull: true, yearTicks: true, arrow: p2Arrow,
  },
  {
    canvasTop: 670, canvasHeight: 395, areaTop: 715, areaBottom: 1018, xMin: 1995, xMax: 2022, rightLabelEdge: 1537,
    left: { min: 70.1, max: 140.5, ticks: p3Ticks, labeled: p3Ticks },
    right: { min: 70.1, max: 140.5, ticks: p3Ticks, labeled: p3Ticks },
    dashedAxis: 'yL', green: p3Green, dashed: p3Dashed, topFull: false, bottomFull: false, yearTicks: false,
  },
  {
    canvasTop: 1007, canvasHeight: 395, areaTop: 1052, areaBottom: 1355, xMin: 1995, xMax: 2022, rightLabelEdge: 1520,
    left: { min: -14.9, max: 34.9, ticks: p4LeftTicks, labeled: p4LeftTicks },
    right: { min: 9.8, max: 85.2, reverse: true, ticks: p4RightTicks, labeled: p4RightLabels },
    dashedAxis: 'yR', green: p4Green, dashed: p4Dashed, topFull: false, bottomFull: false, yearTicks: false, arrow: p4Arrow,
  },
  {
    canvasTop: 1343, canvasHeight: 412, areaTop: 1388, areaBottom: 1692, xMin: 1995, xMax: 2022, yearLabels: p5Years, labelPad: 22, rightLabelEdge: 1520,
    left: { min: -30.1, max: 59.6, ticks: p5LeftTicks, labeled: p5LeftTicks },
    right: { min: -0.4, max: 90.1, reverse: true, ticks: p5RightTicks, labeled: p5RightTicks },
    dashedAxis: 'yR', green: p5Green, dashed: p5Dashed, topFull: false, bottomFull: true, yearTicks: true, arrow: p5Arrow,
  },
];

function framePlugin(cfg: PanelCfg) {
  return {
    id: 'frame',
    afterDatasetsDraw(chart: any) {
      const { ctx, chartArea: a, scales } = chart;
      const L = a.left, R = a.right, T = a.top, B = a.bottom;
      const seg = (x1: number, y1: number, x2: number, y2: number) => {
        ctx.beginPath(); ctx.moveTo(x1, y1); ctx.lineTo(x2, y2); ctx.stroke();
      };
      ctx.save();
      ctx.strokeStyle = AXIS;
      ctx.lineCap = 'square';
      ctx.lineWidth = 4.5;
      seg(L, T, L, B);
      seg(R, T, R, B);
      if (cfg.topFull) seg(L, T, R, T); else { seg(L, T, L + CAP, T); seg(R - CAP, T, R, T); }
      if (cfg.bottomFull) seg(L, B, R, B); else { seg(L, B, L + CAP, B); seg(R - CAP, B, R, B); }
      ctx.lineCap = 'butt';
      ctx.lineWidth = 3.5;
      for (const v of cfg.left.ticks) { const y = scales.yL.getPixelForValue(v); seg(L, y, L + 15, y); }
      for (const v of cfg.right.ticks) { const y = scales.yR.getPixelForValue(v); seg(R - 15, y, R, y); }
      if (cfg.yearTicks) {
        ctx.lineWidth = 3;
        for (let yr = Math.floor(cfg.xMin) + 1; yr < cfg.xMax; yr++) {
          const x = scales.x.getPixelForValue(yr);
          seg(x, B, x, B - 23);
        }
      }
      if (cfg.arrow) {
        const [ax1, ay1, ax2, ay2] = cfg.arrow;
        const x1 = scales.x.getPixelForValue(ax1), y1 = scales.yL.getPixelForValue(ay1);
        const x2 = scales.x.getPixelForValue(ax2), y2 = scales.yL.getPixelForValue(ay2);
        ctx.strokeStyle = '#222';
        ctx.lineWidth = 1.8;
        ctx.lineCap = 'round';
        seg(x1, y1, x2, y2);
        const ang = Math.atan2(y2 - y1, x2 - x1);
        const hl = 15;
        for (const d of [0.45, -0.45]) {
          seg(x2, y2, x2 - hl * Math.cos(ang + d), y2 - hl * Math.sin(ang + d));
        }
      }
      ctx.restore();
    },
  };
}

function buildConfig(cfg: PanelCfg): any {
  const tickFont = { family: FONT_FAMILY, size: 29, weight: 'bold', lineHeight: 1 };
  const yAxis = (a: AxisCfg, pos: 'left' | 'right') => ({
    type: 'linear', position: pos, min: a.min, max: a.max, reverse: !!a.reverse, bounds: 'data',
    grid: { display: false, drawTicks: false }, border: { display: false },
    afterBuildTicks: (s: any) => { s.ticks = a.ticks.map((v) => ({ value: v })); },
    afterFit: (s: any) => { s.width = pos === 'left' ? AREA_L : cfg.rightLabelEdge - AREA_R; },
    ticks: {
      font: tickFont, color: TEXT, padding: pos === 'left' ? 19 : 17, crossAlign: pos === 'left' ? 'near' : 'far', autoSkip: false,
      callback: (v: number) => (a.labeled.includes(v) ? String(v) : ''),
    },
  });
  const hasX = !!cfg.yearLabels;
  const canvasBottom = cfg.canvasTop + cfg.canvasHeight;
  return {
    type: 'line',
    data: {
      datasets: [
        {
          label: 'dashed', data: cfg.dashed.map(([x, y]) => ({ x, y })), yAxisID: cfg.dashedAxis,
          borderColor: DASH, borderWidth: 3.4, borderDash: [10, 6], pointRadius: 0, tension: 0, order: 0, fill: false,
        },
        {
          label: 'green', data: cfg.green.map(([x, y]) => ({ x, y })), yAxisID: 'yL',
          borderColor: GREEN, borderWidth: 4.6, borderJoinStyle: 'round', pointRadius: 0, tension: 0, order: 1, fill: false,
        },
      ],
    },
    options: {
      animation: false, responsive: false, maintainAspectRatio: false, events: [],
      layout: {
        padding: {
          left: 0, right: PAGE_W - cfg.rightLabelEdge,
          top: cfg.areaTop - cfg.canvasTop, bottom: hasX ? 0 : canvasBottom - cfg.areaBottom,
        },
      },
      plugins: { legend: { display: false }, tooltip: { enabled: false }, title: { display: false } },
      scales: {
        x: {
          type: 'linear', position: 'bottom', min: cfg.xMin, max: cfg.xMax, display: hasX, bounds: 'data',
          grid: { display: false, drawTicks: false }, border: { display: false },
          afterBuildTicks: (s: any) => { s.ticks = (cfg.yearLabels || []).map((y) => ({ value: y + 0.5 })); },
          afterFit: (s: any) => { s.height = hasX ? canvasBottom - cfg.areaBottom : 0; },
          ticks: {
            font: tickFont, color: TEXT, padding: cfg.labelPad ?? 20, maxRotation: 0, minRotation: 0, autoSkip: false,
            callback: (v: number) => String(Math.floor(v)),
          },
        },
        yL: yAxis(cfg.left, 'left'),
        yR: yAxis(cfg.right, 'right'),
      },
    },
    plugins: [framePlugin(cfg)],
  };
}

function Panel({ cfg }: { cfg: PanelCfg }) {
  const ref = useRef<HTMLCanvasElement>(null);
  useEffect(() => {
    const canvas = ref.current;
    if (!canvas) return;
    const chart = new Chart(canvas, buildConfig(cfg));
    return () => chart.destroy();
  }, [cfg]);
  return (
    <canvas
      ref={ref}
      width={PAGE_W}
      height={cfg.canvasHeight}
      style={{ position: 'absolute', left: 0, top: cfg.canvasTop, width: PAGE_W, height: cfg.canvasHeight }}
    />
  );
}

// ---------------- text ----------------
type TextItem = { t: string; x: number; cy: number; w?: number; size?: number; color?: string; weight?: number; family?: string; align?: 'left' | 'right' };

const LEGEND_TEXTS: TextItem[] = [
  { t: 'REAL BROAD TRADE-WEIGHTED DOLLAR* (LS)', x: 283, cy: 63, w: 713 },
  { t: 'U.S. FINANCIAL LIQUIDITY INDEX** (ADV BY 18-MONTHS, INV, RS)', x: 283, cy: 97, w: 999 },
  { t: 'DXY U.S. DOLLAR INDEX*** (LS)', x: 261, cy: 419, w: 471 },
  { t: 'ALL SECURITIES ON COMMERCIAL BANKS BALANCE SHEET', x: 261, cy: 454, w: 914 },
  { t: 'AS A % OF GDP (ANNUAL CHANGE, INV, RS)', x: 265, cy: 482, w: 660 },
  { t: 'BROAD TRADE-WEIGHTED DOLLAR*: LEVEL (LS)', x: 564, cy: 767, w: 736 },
  { t: 'MODEL**** (RS)', x: 564, cy: 804, w: 224 },
  { t: 'BROAD TRADE-WEIGHTED DOLLAR* (LS)', x: 366, cy: 1055, w: 623 },
  { t: 'EM ASIA ECONOMIC DIFFUSION INDEX***** (INV, RS)', x: 366, cy: 1091, w: 786 },
  { t: 'USD vs COMMODITY CURRENCIES****** (LS)', x: 366, cy: 1392, w: 658 },
  { t: 'EM ASIA ECONOMIC DIFFUSION INDEX***** (INV, RS)', x: 366, cy: 1427, w: 786 },
];

const AXIS_TITLES: TextItem[] = [
  { t: 'Ann%', x: 110, cy: 45, w: 86, align: 'right', size: 30 },
  { t: 'Chg', x: 110, cy: 80, w: 62, align: 'right', size: 30 },
  { t: 'Ann%', x: 110, cy: 383, w: 86, align: 'right', size: 30 },
  { t: 'Chg', x: 110, cy: 418, w: 62, align: 'right', size: 30 },
  { t: 'Ann', x: 1486, cy: 382, w: 60, size: 30 },
  { t: 'Chg', x: 1486, cy: 417, w: 61, size: 30 },
  { t: 'Ann%', x: 110, cy: 1055, w: 86, align: 'right', size: 30 },
  { t: 'Chg', x: 110, cy: 1090, w: 62, align: 'right', size: 30 },
  { t: 'Ann%', x: 1486, cy: 1055, w: 84, size: 30 },
  { t: 'Chg', x: 1486, cy: 1090, w: 61, size: 30 },
  { t: 'Ann%', x: 110, cy: 1392, w: 86, align: 'right', size: 30 },
  { t: 'Chg', x: 110, cy: 1427, w: 62, align: 'right', size: 30 },
  { t: 'Ann%', x: 1486, cy: 1392, w: 84, size: 30 },
  { t: 'Chg', x: 1486, cy: 1427, w: 61, size: 30 },
];

const ANNOTATION: TextItem[] = [
  { t: 'GLOBAL MONEY', x: 1144, cy: 898, w: 252, color: '#151c1d' },
  { t: 'SUPPLY TRENDS', x: 1144, cy: 941, w: 257, color: '#151c1d' },
  { t: 'ARE DOLLAR', x: 1144, cy: 986, w: 194, color: '#151c1d' },
  { t: 'BEARISH', x: 1144, cy: 1024, w: 136, color: '#151c1d' },
];

const FOOTNOTES: TextItem[] = [
  { t: '*', x: 130, cy: 1767, w: 8 },
  { t: 'SOURCE: FEDERAL RESERVE.', x: 179, cy: 1767, w: 387 },
  { t: '**', x: 130, cy: 1802, w: 18 },
  { t: 'BASED ON BCA CALCULATIONS.', x: 184, cy: 1802, w: 428 },
  { t: '***', x: 130, cy: 1832, w: 28 },
  { t: 'SOURCE: BLOOMBERG / NYMEX.', x: 186, cy: 1832, w: 441 },
  { t: '****', x: 130, cy: 1867, w: 36 },
  { t: 'BCA CALCULATIONS; BASED ON U.S., EURO AREA, JAPAN AND CHINA M2 MONEY SUPPLY.', x: 189, cy: 1867, w: 1203 },
  { t: '*****', x: 130, cy: 1895, w: 46 },
  { t: 'SHOWN AS A 6-MONTH MOVING AVERAGE; BASED ON 23 KOREAN, TAIWANESE, CHINESE, AND', x: 191, cy: 1895, w: 1277 },
  { t: 'SINGAPOREAN DATA SERIES.', x: 184, cy: 1928, w: 386 },
  { t: '******', x: 130, cy: 1960, w: 60 },
  { t: 'EQUALLY-WEIGHTED AVERAGE OF CAD/USD, NZD/USD AND AUD/USD.', x: 195, cy: 1960, w: 980 },
  { t: '\u00A9 BCA Research 2019', x: 1170, cy: 1770, w: 291, color: '#1aa37a', weight: 400, size: 30, family: '"Liberation Serif", "DejaVu Serif", serif' },
];

// legend sample marks: [x1, x2, y, kind]
const LEGEND_SAMPLES: [number, number, number, 'g' | 'd'][] = [
  [194, 270, 59, 'g'], [194, 265, 93, 'd'],
  [171, 247, 412, 'g'], [171, 240, 447, 'd'],
  [474, 551, 762, 'g'], [474, 546, 799, 'd'],
  [276, 352, 1048, 'g'], [276, 347, 1085, 'd'],
  [276, 352, 1385, 'g'], [276, 347, 1420, 'd'],
];

function FitText({ item }: { item: TextItem }) {
  const ref = useRef<HTMLSpanElement>(null);
  const size = item.size ?? 29;
  useLayoutEffect(() => {
    const el = ref.current;
    if (!el) return;
    const fit = () => {
      el.style.transform = 'none';
      const nat = el.getBoundingClientRect().width;
      if (item.w && nat > 0) el.style.transform = `scaleX(${item.w / nat})`;
    };
    fit();
    let alive = true;
    const fonts = (document as any).fonts;
    if (fonts && fonts.ready) fonts.ready.then(() => { if (alive) fit(); });
    return () => { alive = false; };
  }, [item, size]);
  const style: React.CSSProperties = {
    position: 'absolute',
    top: item.cy - size * 0.49,
    fontSize: size,
    lineHeight: `${size}px`,
    height: size,
    whiteSpace: 'nowrap',
    fontFamily: item.family ?? FONT_FAMILY,
    fontWeight: item.weight ?? 700,
    color: item.color ?? TEXT,
    transformOrigin: item.align === 'right' ? 'right center' : 'left center',
  };
  if (item.align === 'right') style.right = PAGE_W - item.x; else style.left = item.x;
  return <span ref={ref} style={style}>{item.t}</span>;
}

export default function App() {
  const texts = [...AXIS_TITLES, ...LEGEND_TEXTS, ...ANNOTATION, ...FOOTNOTES];
  return (
    <div style={{ position: 'absolute', left: 0, top: 0, width: PAGE_W, height: PAGE_H, background: '#fff', overflow: 'hidden' }}>
      {PANELS.map((p, i) => <Panel key={i} cfg={p} />)}
      <svg width={PAGE_W} height={PAGE_H} style={{ position: 'absolute', left: 0, top: 0, pointerEvents: 'none' }}>
        {LEGEND_SAMPLES.map(([x1, x2, y, k], i) => (
          <line key={i} x1={x1} x2={x2} y1={y} y2={y}
            stroke={k === 'g' ? GREEN : DASH} strokeWidth={k === 'g' ? 6 : 4}
            strokeDasharray={k === 'd' ? '12 7' : undefined} />
        ))}
      </svg>
      {texts.map((t, i) => <FitText key={i} item={t} />)}
    </div>
  );
}
